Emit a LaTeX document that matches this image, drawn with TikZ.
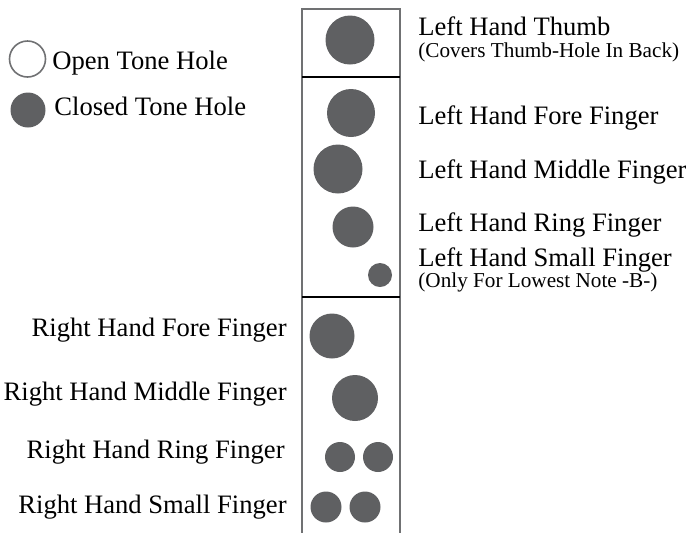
\documentclass[tikz,border=0pt]{standalone}
\usepackage{fontspec}
\setmainfont{Liberation Serif}
\usepackage{xcolor}
\usepackage{tikz}
\definecolor{holegray}{RGB}{95,96,98}
\definecolor{edgegray}{RGB}{112,113,115}

\begin{document}
\begin{tikzpicture}[x=0.5pt,y=-0.5pt,
  hole/.style={circle,fill=holegray,inner sep=0pt,minimum size=#1*0.5pt},
  ohole/.style={circle,draw=edgegray,line width=0.8pt,fill=white,inner sep=0pt,minimum size=#1*0.5pt},
  lbl/.style={inner sep=0pt,font=\fontsize{13.3}{15}\selectfont},
  note/.style={inner sep=0pt,font=\fontsize{10.6}{12}\selectfont},
  tube/.style={draw=edgegray,line width=1pt},
  joint/.style={draw=black,line width=1.2pt}]
\useasboundingbox (0,0) rectangle (686,532);
% body of the instrument
\draw[tube] (302,536) |- (400,9) -- (400,536);
\draw[joint] (302,77) -- (400,77);
\draw[joint] (302,297) -- (400,297);
% legend
\node[ohole=36] (op) at (27.5,59) {};
\node[hole=35] (cl) at (28,110) {};
\node[lbl,anchor=base west] (opt) at (52,69) {Open Tone Hole};
\node[lbl,anchor=base west] (clt) at (54,115) {Closed Tone Hole};
% left hand
\node[hole=49] (lth) at (350,40) {};
\node[hole=48] (lfo) at (351,113) {};
\node[hole=49] (lmi) at (338,169) {};
\node[hole=41] (lri) at (353,227) {};
\node[hole=24] (lsm) at (380,275) {};
\node[lbl,anchor=base west] (lthT) at (418,35) {Left Hand Thumb};
\node[note,anchor=base west] (lthN) at (418,57) {(Covers Thumb-Hole In Back)};
\node[lbl,anchor=base west] (lfoT) at (418,124) {Left Hand Fore Finger};
\node[lbl,anchor=base west] (lmiT) at (418,178) {Left Hand Middle Finger};
\node[lbl,anchor=base west] (lriT) at (418,231) {Left Hand Ring Finger};
\node[lbl,anchor=base west] (lsmT) at (418,266) {Left Hand Small Finger};
\node[note,anchor=base west] (lsmN) at (418,287) {(Only For Lowest Note -B-)};
% right hand
\node[hole=45] (rfo) at (332,336) {};
\node[hole=46] (rmi) at (355,398) {};
\node[hole=30] (rri1) at (340,457) {};
\node[hole=30] (rri2) at (378,457) {};
\node[hole=31] (rsm1) at (326,507) {};
\node[hole=31] (rsm2) at (365,507) {};
\node[lbl,anchor=base east] (rfoT) at (287,336) {Right Hand Fore Finger};
\node[lbl,anchor=base east] (rmiT) at (287,400) {Right Hand Middle Finger};
\node[lbl,anchor=base east] (rriT) at (285,458) {Right Hand Ring Finger};
\node[lbl,anchor=base east] (rsmT) at (287,513) {Right Hand Small Finger};
\end{tikzpicture}
\end{document}
